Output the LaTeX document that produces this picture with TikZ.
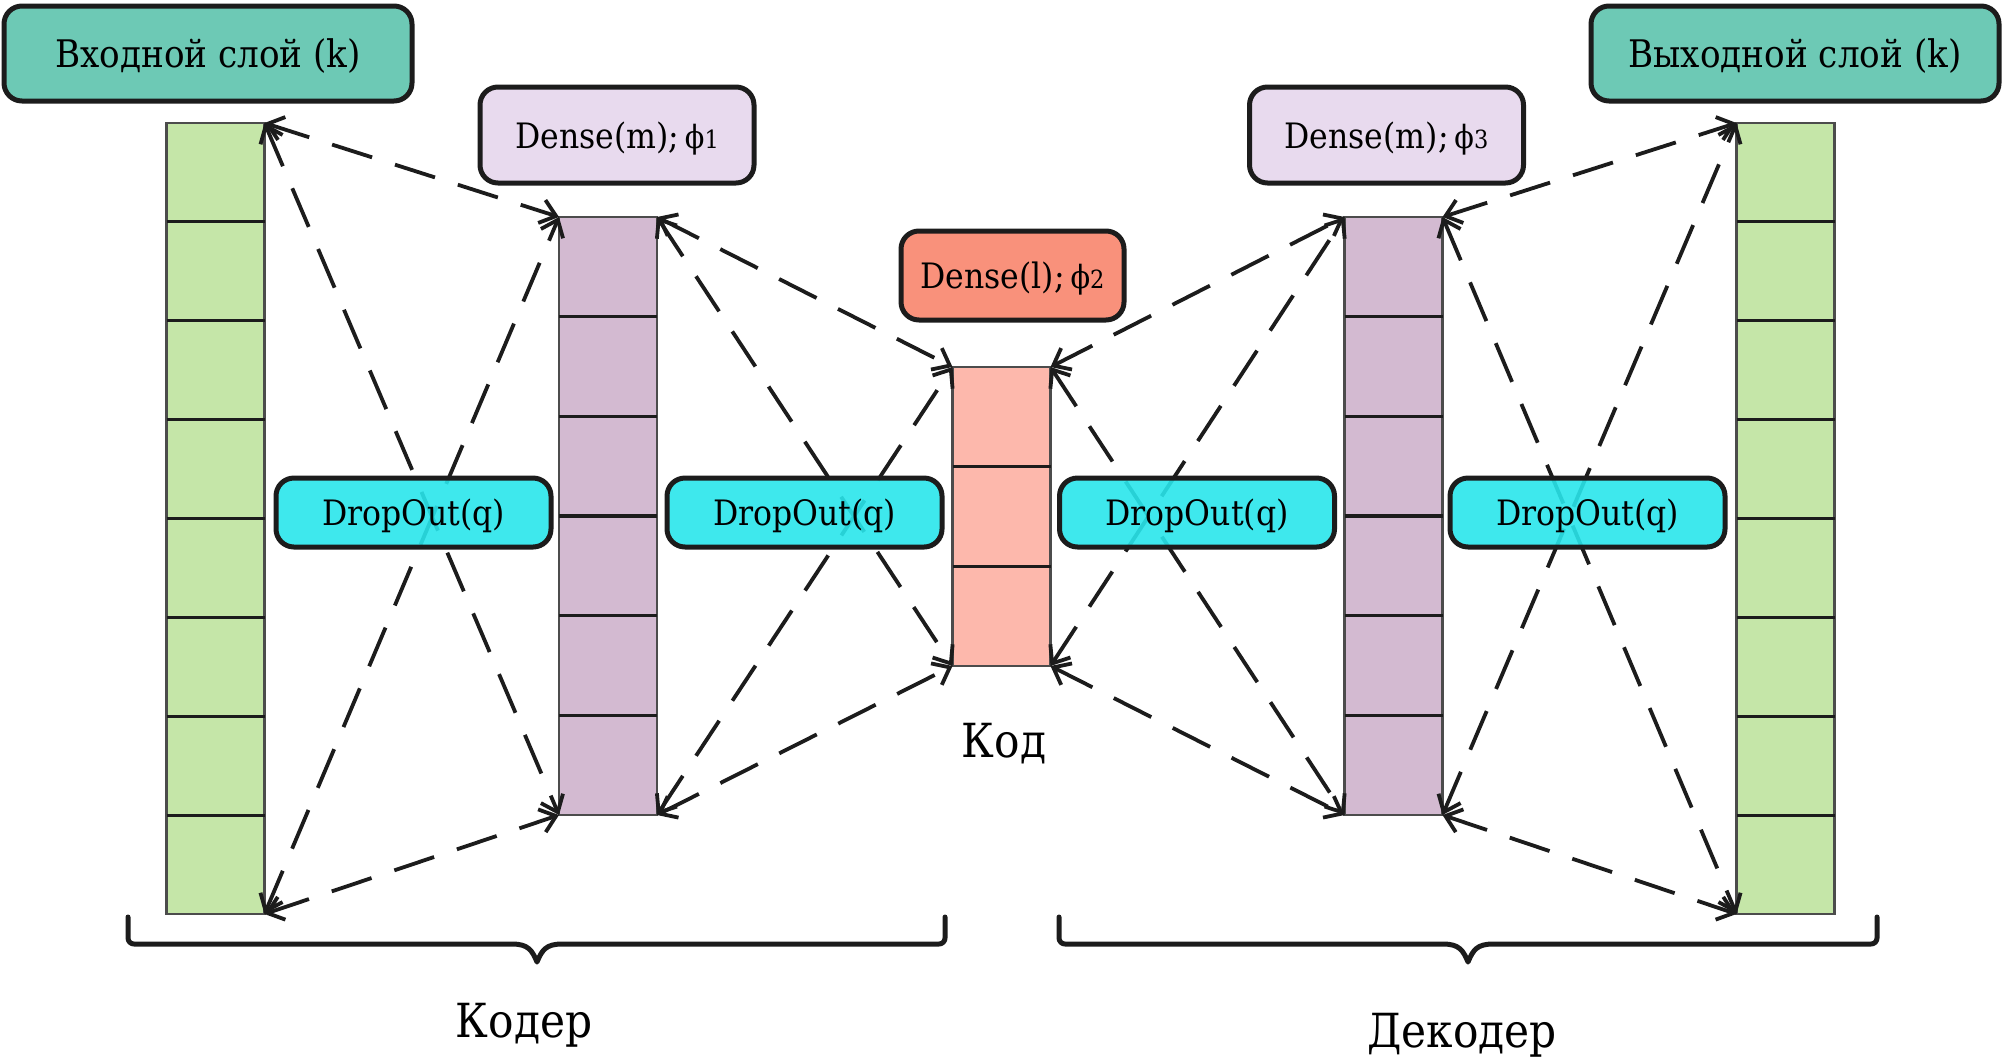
\documentclass[tikz,border=0pt]{standalone}
\usepackage{fontspec}
\setmainfont[FakeStretch=0.9]{DejaVu Serif}
\usetikzlibrary{arrows.meta,calc}
\definecolor{cteal}{RGB}{109,201,181}
\definecolor{clav}{RGB}{232,218,238}
\definecolor{csalmonhd}{RGB}{249,145,123}
\definecolor{ccyan}{RGB}{41,229,235}
\definecolor{cgreen}{RGB}{197,230,168}
\definecolor{cpurple}{RGB}{211,186,209}
\definecolor{csalmon}{RGB}{253,184,172}
\definecolor{cdark}{RGB}{28,28,28}
\tikzset{
  col/.style={draw=black!70, line width=1.1pt, minimum width=49pt, inner sep=0pt, outer sep=0pt},
  div/.style={draw=cdark, line width=1.6pt},
  lbl/.style={draw=cdark, line width=2.5pt, rounded corners=9pt, inner sep=0pt, align=center,
              text=black, text depth=0pt, font=\fontsize{17.5}{20}\selectfont},
  hdr/.style={lbl, fill=cteal, minimum width=204pt, minimum height=47.5pt, font=\fontsize{19}{22}\selectfont},
  conn/.style={draw=cdark, line width=1.9pt, dash pattern=on 21pt off 12pt,
               {Straight Barb[length=7.5pt,width=12pt]}-{Straight Barb[length=7.5pt,width=12pt]}},
  brace/.style={draw=cdark, line width=2.5pt, line cap=round, line join=round},
  captext/.style={text=black, anchor=base, inner sep=0pt, font=\fontsize{23.5}{26}\selectfont}
}
\newcommand{\phisub}[1]{\,{\fontsize{16}{18}\selectfont ϕ}{\fontsize{12.5}{14}\selectfont #1}}
\begin{document}
\begin{tikzpicture}[x=0.5pt,y=-0.5pt]
\useasboundingbox (0,0) rectangle (2005,1061);

% columns
\node[col, fill=cgreen,  minimum height=395.5pt] (g1) at (215.5,518.5) {};
\node[col, fill=cpurple, minimum height=299pt]   (p1) at (608,516) {};
\node[col, fill=csalmon, minimum height=149.5pt] (s)  at (1001.5,516.5) {};
\node[col, fill=cpurple, minimum height=299pt]   (p2) at (1393.5,516) {};
\node[col, fill=cgreen,  minimum height=395.5pt] (g2) at (1785.5,518.5) {};

\foreach \c/\n in {g1/8, p1/6, s/3, p2/6, g2/8} {
  \pgfmathtruncatemacro{\m}{\n-1}
  \foreach \i in {1,...,\m} {
    \draw[div] ($(\c.north west)!\i/\n!(\c.south west)$) -- ($(\c.north east)!\i/\n!(\c.south east)$);
  }
}

% connectors
\foreach \a/\b in {g1/p1, p1/s, s/p2, p2/g2} {
  \draw[conn] (\a.north east) -- (\b.north west);
  \draw[conn] (\a.north east) -- (\b.south west);
  \draw[conn] (\a.south east) -- (\b.north west);
  \draw[conn] (\a.south east) -- (\b.south west);
}

% header labels
\node[hdr] (inp) at (208,53.5) {Входной слой (k)};
\node[hdr] (outp) at (1795,53.5) {Выходной слой (k)};
\node[lbl, fill=clav, minimum width=137pt, minimum height=48pt] (d1) at (617,135) {Dense(m);\phisub{1}};
\node[lbl, fill=csalmonhd, minimum width=111.5pt, minimum height=44.5pt] (d2) at (1012.5,275.5) {Dense(l);\phisub{2}};
\node[lbl, fill=clav, minimum width=137pt, minimum height=48pt] (d3) at (1386.5,135) {Dense(m);\phisub{3}};

% dropout labels
\foreach \x/\nm in {413.5/do1, 804.5/do2, 1197/do3, 1587.5/do4} {
  \node[lbl, fill=ccyan, fill opacity=0.9, text opacity=1, minimum width=137.5pt, minimum height=34.5pt] (\nm) at (\x,512.5) {DropOut(q)};
}

% captions
\node[captext] (kod) at (1004,757) {Код};
\node[captext] (enc) at (524,1037) {Кодер};
\node[captext] (dec) at (1462,1047) {Декодер};

% braces
\draw[brace] (128,917) -- (128,938) arc[start angle=180, end angle=90, radius=6] -- (512,944)
  .. controls (528,944) and (532,950) .. (537,962)
  .. controls (542,950) and (546,944) .. (562,944) -- (939,944)
  arc[start angle=90, end angle=0, radius=6] -- (945,917);
\draw[brace] (1059,917) -- (1059,938) arc[start angle=180, end angle=90, radius=6] -- (1443,944)
  .. controls (1459,944) and (1463,950) .. (1468,962)
  .. controls (1473,950) and (1477,944) .. (1493,944) -- (1871,944)
  arc[start angle=90, end angle=0, radius=6] -- (1877,917);
\end{tikzpicture}
\end{document}
